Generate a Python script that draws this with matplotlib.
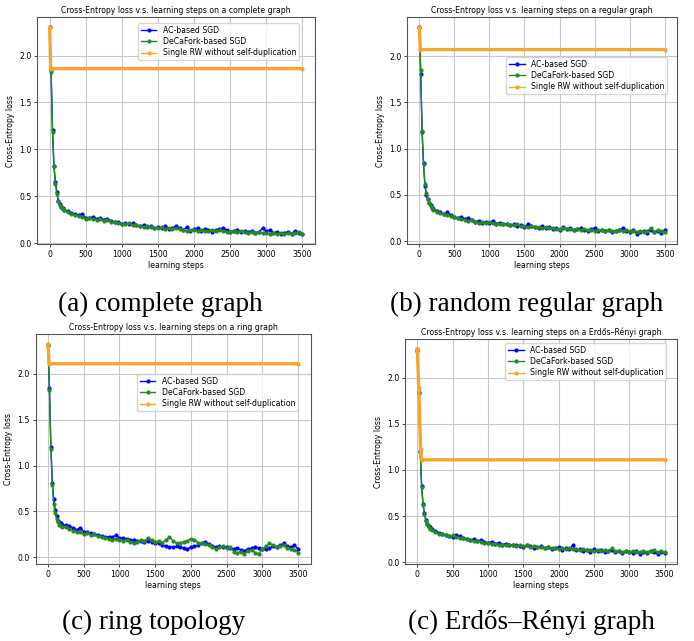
import matplotlib
matplotlib.use('Agg')
import matplotlib.pyplot as plt
import matplotlib.font_manager as fm
from matplotlib.lines import Line2D

# --- Data ---
STEPS = list(range(0, 201, 20)) + list(range(250, 3501, 50))

COMPLETE_AC = [2.30, 1.85, 1.21, 0.82, 0.65, 0.55, 0.45, 0.42, 0.39, 0.37, 0.35,
               0.34, 0.32, 0.31, 0.30, 0.31, 0.27, 0.27, 0.28, 0.26, 0.27,
               0.25, 0.26, 0.24, 0.22, 0.23, 0.20, 0.21, 0.20, 0.21, 0.19,
               0.18, 0.19, 0.17, 0.18, 0.16, 0.17, 0.16, 0.18, 0.15, 0.16,
               0.18, 0.16, 0.14, 0.17, 0.13, 0.15, 0.16, 0.13, 0.15, 0.14,
               0.12, 0.14, 0.15, 0.16, 0.14, 0.12, 0.13, 0.14, 0.12, 0.13,
               0.12, 0.13, 0.11, 0.12, 0.16, 0.13, 0.14, 0.11, 0.12, 0.10,
               0.11, 0.12, 0.10, 0.13, 0.11, 0.10]
COMPLETE_DECA = [2.30, 1.82, 1.18, 0.82, 0.63, 0.52, 0.45, 0.41, 0.38, 0.36, 0.35,
                 0.33, 0.31, 0.30, 0.29, 0.28, 0.26, 0.27, 0.26, 0.25, 0.26,
                 0.24, 0.25, 0.23, 0.22, 0.21, 0.20, 0.20, 0.21, 0.19, 0.19,
                 0.18, 0.17, 0.18, 0.17, 0.16, 0.16, 0.17, 0.15, 0.16, 0.15,
                 0.16, 0.15, 0.14, 0.13, 0.14, 0.14, 0.13, 0.14, 0.13, 0.13,
                 0.14, 0.13, 0.14, 0.13, 0.12, 0.12, 0.13, 0.12, 0.13, 0.12,
                 0.11, 0.12, 0.11, 0.12, 0.11, 0.11, 0.10, 0.11, 0.10, 0.11,
                 0.10, 0.11, 0.10, 0.11, 0.12, 0.10]
COMPLETE_RW_X = [0, 15, 3500]
COMPLETE_RW = [2.30, 1.86, 1.86]

REGULAR_AC = [2.31, 1.81, 1.18, 0.84, 0.60, 0.50, 0.45, 0.41, 0.39, 0.37, 0.35,
              0.33, 0.31, 0.29, 0.31, 0.28, 0.26, 0.25, 0.26, 0.24, 0.25,
              0.23, 0.21, 0.22, 0.20, 0.21, 0.20, 0.22, 0.19, 0.20, 0.18,
              0.19, 0.17, 0.18, 0.16, 0.17, 0.15, 0.18, 0.16, 0.15, 0.14,
              0.16, 0.14, 0.15, 0.13, 0.14, 0.12, 0.15, 0.13, 0.14, 0.12,
              0.13, 0.14, 0.12, 0.11, 0.13, 0.14, 0.11, 0.12, 0.11, 0.12,
              0.10, 0.11, 0.12, 0.14, 0.11, 0.10, 0.12, 0.08, 0.10, 0.11,
              0.09, 0.12, 0.10, 0.11, 0.09, 0.12]
REGULAR_DECA = [2.31, 1.85, 1.19, 0.83, 0.62, 0.52, 0.46, 0.41, 0.38, 0.36, 0.34,
                0.32, 0.30, 0.29, 0.28, 0.27, 0.26, 0.25, 0.24, 0.23, 0.22,
                0.23, 0.21, 0.20, 0.21, 0.20, 0.21, 0.20, 0.19, 0.19, 0.18,
                0.18, 0.17, 0.17, 0.18, 0.16, 0.16, 0.15, 0.16, 0.15, 0.15,
                0.14, 0.15, 0.14, 0.14, 0.13, 0.13, 0.14, 0.13, 0.13, 0.12,
                0.13, 0.12, 0.13, 0.12, 0.12, 0.11, 0.12, 0.12, 0.11, 0.12,
                0.11, 0.11, 0.12, 0.11, 0.12, 0.11, 0.11, 0.10, 0.11, 0.10,
                0.11, 0.14, 0.10, 0.12, 0.11, 0.10]
REGULAR_RW_X = [0, 15, 3500]
REGULAR_RW = [2.31, 2.07, 2.07]

RING_AC = [2.31, 1.84, 1.20, 0.81, 0.63, 0.52, 0.45, 0.40, 0.38, 0.37, 0.35,
           0.35, 0.34, 0.32, 0.30, 0.32, 0.28, 0.27, 0.26, 0.25, 0.24,
           0.23, 0.22, 0.22, 0.22, 0.24, 0.21, 0.21, 0.20, 0.19, 0.19,
           0.18, 0.18, 0.17, 0.18, 0.17, 0.16, 0.15, 0.13, 0.12, 0.11,
           0.11, 0.12, 0.11, 0.10, 0.09, 0.11, 0.12, 0.13, 0.15, 0.17,
           0.14, 0.12, 0.11, 0.12, 0.11, 0.11, 0.10, 0.09, 0.10, 0.08,
           0.07, 0.09, 0.10, 0.11, 0.10, 0.09, 0.09, 0.10, 0.12, 0.11,
           0.13, 0.15, 0.12, 0.11, 0.13, 0.09]
RING_DECA = [2.31, 1.82, 1.18, 0.79, 0.58, 0.48, 0.42, 0.38, 0.35, 0.34, 0.33,
             0.33, 0.31, 0.29, 0.27, 0.28, 0.25, 0.26, 0.24, 0.25, 0.23,
             0.22, 0.21, 0.20, 0.19, 0.20, 0.19, 0.18, 0.19, 0.17, 0.15,
             0.17, 0.19, 0.18, 0.21, 0.19, 0.17, 0.18, 0.16, 0.19, 0.22,
             0.18, 0.15, 0.16, 0.17, 0.18, 0.20, 0.19, 0.16, 0.15, 0.14,
             0.13, 0.11, 0.09, 0.11, 0.12, 0.10, 0.11, 0.06, 0.05, 0.06,
             0.04, 0.07, 0.08, 0.05, 0.04, 0.09, 0.12, 0.15, 0.13, 0.11,
             0.12, 0.13, 0.10, 0.09, 0.08, 0.05]
RING_RW_X = [0, 15, 3500]
RING_RW = [2.32, 2.11, 2.11]

ER_AC = [2.29, 1.83, 1.21, 0.83, 0.63, 0.53, 0.46, 0.41, 0.39, 0.38, 0.36,
         0.34, 0.32, 0.30, 0.29, 0.28, 0.27, 0.29, 0.28, 0.26, 0.25,
         0.24, 0.25, 0.23, 0.24, 0.22, 0.21, 0.22, 0.20, 0.21, 0.19,
         0.20, 0.18, 0.19, 0.18, 0.17, 0.16, 0.18, 0.17, 0.15, 0.16,
         0.17, 0.15, 0.16, 0.14, 0.15, 0.16, 0.13, 0.15, 0.14, 0.18,
         0.13, 0.14, 0.12, 0.13, 0.11, 0.14, 0.12, 0.13, 0.11, 0.12,
         0.13, 0.11, 0.12, 0.10, 0.12, 0.11, 0.10, 0.12, 0.09, 0.11,
         0.10, 0.12, 0.11, 0.09, 0.11, 0.10]
ER_DECA = [2.31, 1.85, 1.20, 0.82, 0.62, 0.52, 0.45, 0.41, 0.38, 0.36, 0.35,
           0.33, 0.31, 0.30, 0.29, 0.28, 0.29, 0.27, 0.26, 0.26, 0.25,
           0.24, 0.23, 0.23, 0.22, 0.21, 0.21, 0.20, 0.20, 0.19, 0.19,
           0.18, 0.19, 0.18, 0.17, 0.18, 0.17, 0.18, 0.16, 0.17, 0.16,
           0.16, 0.15, 0.16, 0.15, 0.15, 0.14, 0.15, 0.14, 0.15, 0.14,
           0.14, 0.13, 0.14, 0.13, 0.13, 0.12, 0.13, 0.12, 0.13, 0.12,
           0.15, 0.12, 0.12, 0.11, 0.12, 0.11, 0.12, 0.11, 0.11, 0.12,
           0.11, 0.12, 0.13, 0.11, 0.12, 0.11]
ER_RW_X = [0, 20, 45, 60, 3500]
ER_RW = [2.31, 1.89, 1.23, 1.11, 1.11]

LABELS = ['AC-based SGD', 'DeCaFork-based SGD', 'Single RW without self-duplication']

# --- Style ---
COLORS = ['blue', 'forestgreen', '#f7a531']
available = {f.name for f in fm.fontManager.ttflist}
if 'Liberation Sans Narrow' in available:
    SANS = ['Liberation Sans Narrow', 'DejaVu Sans']
    FS = 7
else:
    SANS = ['DejaVu Sans']
    FS = 5.6
plt.rcParams['font.family'] = SANS
SERIF = ['Liberation Serif', 'DejaVu Serif']


def plot_panel(ax, graph_name, ac, deca, rw_x, rw, legend_anchor):
    ax.plot(STEPS, ac, color=COLORS[0], marker='.', ms=4, lw=1.0)
    ax.plot(STEPS, deca, color=COLORS[1], marker='.', ms=4, lw=1.0)
    ax.plot(rw_x, rw, color=COLORS[2], marker='.', ms=4, lw=2.4)

    ax.set_title(f'Cross-Entropy loss v.s. learning steps on a {graph_name} graph',
                 fontsize=FS, pad=3)
    ax.set_xlabel('learning steps', fontsize=FS, labelpad=2)
    ax.set_ylabel('Cross-Entropy loss', fontsize=FS, labelpad=3)
    ax.set_xticks(range(0, 3501, 500))
    ax.set_yticks([0.0, 0.5, 1.0, 1.5, 2.0])
    ax.tick_params(labelsize=FS, length=2.5, pad=1.5, width=0.7, color='#444444')
    ax.grid(True, color='#c8c8c8', lw=0.8)
    for sp in ax.spines.values():
        sp.set_color('#555555')
        sp.set_linewidth(0.8)

    handles = [Line2D([], [], color=c, marker='.', ms=4, lw=1.0) for c in COLORS]
    ax.legend(handles, LABELS, loc='upper right', bbox_to_anchor=legend_anchor,
              borderaxespad=0, fontsize=FS, labelspacing=0.3, borderpad=0.35,
              handletextpad=0.8, framealpha=0.8)


fig = plt.figure(figsize=(6.94, 6.41), dpi=100)

ax_a = fig.add_axes([0.0533, 0.6193, 0.4006, 0.3541])
ax_b = fig.add_axes([0.5865, 0.6193, 0.3890, 0.3541])
ax_c = fig.add_axes([0.0512, 0.1201, 0.3963, 0.3588])
ax_d = fig.add_axes([0.5836, 0.1201, 0.3919, 0.3510])

plot_panel(ax_a, 'complete', COMPLETE_AC, COMPLETE_DECA, COMPLETE_RW_X, COMPLETE_RW, (0.942, 0.974))
plot_panel(ax_b, 'regular', REGULAR_AC, REGULAR_DECA, REGULAR_RW_X, REGULAR_RW, (0.963, 0.824))
plot_panel(ax_c, 'ring', RING_AC, RING_DECA, RING_RW_X, RING_RW, (0.954, 0.826))
plot_panel(ax_d, 'Erdős–Rényi', ER_AC, ER_DECA, ER_RW_X, ER_RW, (0.960, 0.983))

# subfigure captions
CAPTIONS = ['(a) complete graph', '(b) random regular graph',
            '(c) ring topology', '(c) Erdős–Rényi graph']
CAPTION_POS = [(0.2305, 0.5148), (0.7594, 0.5148), (0.2219, 0.0187), (0.7651, 0.0187)]
for text, (cx, cy) in zip(CAPTIONS, CAPTION_POS):
    fig.text(cx, cy, text, family=SERIF, fontsize=19.5, ha='center', va='baseline')

fig.savefig('out.png', dpi=100)
